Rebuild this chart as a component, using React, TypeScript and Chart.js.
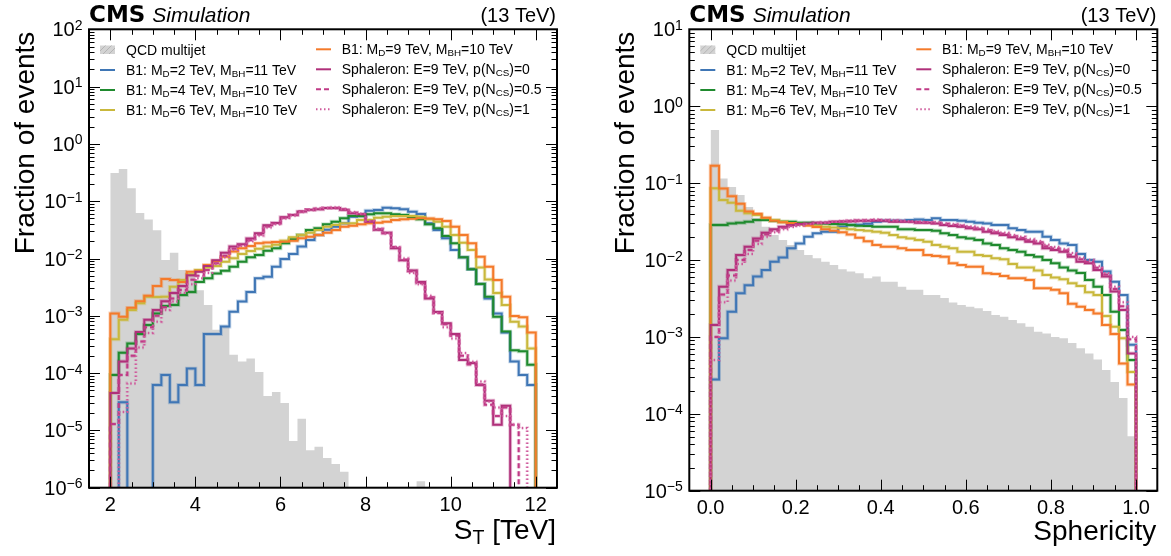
import React, { useEffect, useRef } from 'react';
import { Chart, registerables } from 'chart.js';
Chart.register(...registerables);

const FONT = '"Liberation Sans", Arimo, Arial, sans-serif';
const FLOOR = 1e-12;

// ---------------- binning / ticks ----------------
const ST_EDGES = Array.from({ length: 51 }, (_, i) => +(2 + 0.2 * i).toFixed(2));
const SPH_EDGES = Array.from({ length: 51 }, (_, i) => +(0.02 * i).toFixed(2));

const ST_TICKS = [2, 4, 6, 8, 10, 12];
const ST_TICK_LABELS = ['2', '4', '6', '8', '10', '12'];
const SPH_TICKS = [0, 0.2, 0.4, 0.6, 0.8, 1.0];
const SPH_TICK_LABELS = ['0.0', '0.2', '0.4', '0.6', '0.8', '1.0'];
const ST_DECADES = [-6, -5, -4, -3, -2, -1, 0, 1, 2];
const ST_Y_LABELS = ['10^{−6}', '10^{−5}', '10^{−4}', '10^{−3}', '10^{−2}', '10^{−1}', '10^{0}', '10^{1}', '10^{2}'];
const SPH_DECADES = [-5, -4, -3, -2, -1, 0, 1];
const SPH_Y_LABELS = ['10^{−5}', '10^{−4}', '10^{−3}', '10^{−2}', '10^{−1}', '10^{0}', '10^{1}'];

// ---------------- legend ----------------
const LEGEND_COL1 = ['QCD multijet', 'B1: M_{D}=2 TeV, M_{BH}=11 TeV', 'B1: M_{D}=4 TeV, M_{BH}=10 TeV', 'B1: M_{D}=6 TeV, M_{BH}=10 TeV'];
const LEGEND_COL2 = ['B1: M_{D}=9 TeV, M_{BH}=10 TeV', 'Sphaleron: E=9 TeV, p(N_{CS})=0', 'Sphaleron: E=9 TeV, p(N_{CS})=0.5', 'Sphaleron: E=9 TeV, p(N_{CS})=1'];

const C_QCD = '#d3d3d3';
const C_BLUE = '#3f76b5';
const C_GREEN = '#1f8a2e';
const C_YELLOW = '#c9b83c';
const C_ORANGE = '#f47a2a';
const C_MAG = '#b0307a';
const C_MAG_DASH = '#c03a86';
const C_MAG_DOT = '#cf5a9c';

// ---------------- S_T panel data (fraction of events per 0.2 TeV bin, 2-12 TeV) ----------------
const ST_QCD = [0.31, 0.365, 0.168, 0.062, 0.048, 0.031, 0.0094, 0.0126, 0.0063, 0.0052,
  0.0028, 0.00155, 0.00057, 0.00065, 0.00021, 0.00016, 0.00018, 0.000105, 4.0e-5, 4.7e-5,
  3.0e-5, 6.5e-6, 1.6e-5, 4.5e-6, 5.2e-6, 3.3e-6, 2.6e-6, 1.9e-6, 0, 0,
  0, 0, 0, 0, 0, 0, 1.3e-6, 0, 0, 0,
  0, 0, 0, 0, 0, 0, 0, 0, 0, 0];
const ST_MD2 = [0, 3.1e-5, 0, 0, 0, 6.2e-5, 9.3e-5, 3.1e-5, 6.2e-5, 1.2e-4,
  6.2e-5, 4.8e-4, 4.8e-4, 6.5e-4, 1.18e-3, 1.78e-3, 2.6e-3, 4.5e-3, 4.8e-3, 7.2e-3,
  9.8e-3, 0.012, 0.0162, 0.021, 0.0257, 0.0316, 0.0359, 0.0411, 0.0537, 0.0552,
  0.0682, 0.0702, 0.077, 0.0752, 0.0723, 0.0656, 0.0598, 0.0411, 0.0314, 0.0225,
  0.0141, 0.0105, 6.5e-3, 3.6e-3, 2.0e-3, 1.1e-3, 5.1e-4, 1.6e-4, 9.3e-5, 6.2e-5];
const ST_MD4 = [9.3e-5, 2.27e-4, 3.3e-4, 4.8e-4, 6.9e-4, 1.1e-3, 1.48e-3, 1.55e-3, 2.3e-3, 2.6e-3,
  3.9e-3, 4.5e-3, 5.5e-3, 6.1e-3, 7.2e-3, 8.8e-3, 0.0105, 0.0115, 0.0137, 0.0151,
  0.0184, 0.0216, 0.0257, 0.0314, 0.0337, 0.0395, 0.0439, 0.0504, 0.0552, 0.0552,
  0.059, 0.0615, 0.0615, 0.059, 0.0574, 0.0524, 0.0483, 0.0395, 0.0337, 0.0247,
  0.0184, 0.0105, 6.5e-3, 3.6e-3, 2.15e-3, 9.6e-4, 5.3e-4, 2.5e-4, 2.4e-4, 1.4e-4];
const ST_MD6 = [3.9e-4, 8.5e-4, 1.26e-3, 1.65e-3, 2.15e-3, 2.13e-3, 2.15e-3, 3.2e-3, 4.2e-3, 5.3e-3,
  6.3e-3, 7.0e-3, 7.4e-3, 8.8e-3, 0.0101, 0.012, 0.0135, 0.0148, 0.0162, 0.0174,
  0.0205, 0.0234, 0.0257, 0.0282, 0.0314, 0.0359, 0.0385, 0.0411, 0.0411, 0.047,
  0.047, 0.0515, 0.0537, 0.0552, 0.0552, 0.0552, 0.0537, 0.0483, 0.0439, 0.0359,
  0.0257, 0.0189, 0.0141, 7.0e-3, 4.3e-3, 2.5e-3, 1.54e-3, 7.9e-4, 6.5e-4, 2.7e-4];
const ST_MD9 = [1.1e-3, 9.6e-4, 1.38e-3, 1.8e-3, 2.24e-3, 3.3e-3, 4.4e-3, 4.2e-3, 3.9e-3, 5.9e-3,
  6.1e-3, 7.7e-3, 9.0e-3, 0.0107, 0.0132, 0.0151, 0.0165, 0.0184, 0.0191, 0.0195,
  0.0196, 0.0204, 0.0225, 0.024, 0.0257, 0.0282, 0.0314, 0.0359, 0.0374, 0.0395,
  0.0411, 0.0422, 0.0439, 0.047, 0.0483, 0.0495, 0.0504, 0.0501, 0.0483, 0.0451,
  0.0359, 0.0257, 0.0184, 0.0107, 7.2e-3, 4.2e-3, 2.15e-3, 9.9e-4, 9.4e-4, 5.1e-4];
const ST_SPH0 = [4.5e-5, 1.6e-4, 2.7e-4, 5.2e-4, 8.5e-4, 1.26e-3, 1.8e-3, 2.5e-3, 3.3e-3, 5.1e-3,
  5.9e-3, 7.4e-3, 9.3e-3, 0.0126, 0.0162, 0.0178, 0.0224, 0.0275, 0.038, 0.0417,
  0.0525, 0.0575, 0.066, 0.0708, 0.0724, 0.0759, 0.0759, 0.0708, 0.0617, 0.0589,
  0.0437, 0.0316, 0.0282, 0.0151, 9.3e-3, 6.2e-3, 3.9e-3, 2.0e-3, 1.17e-3, 7.4e-4,
  4.8e-4, 1.7e-4, 1.5e-4, 6.2e-5, 3.3e-5, 1.26e-5, 2.7e-5, 0, 0, 0];
const ST_SPH05 = [1.29e-5, 9.3e-5, 2.0e-4, 3.55e-4, 6.3e-4, 1.0e-3, 1.41e-3, 2.0e-3, 2.82e-3, 4.27e-3,
  5.0e-3, 6.3e-3, 8.3e-3, 0.0112, 0.0148, 0.017, 0.0209, 0.0263, 0.0363, 0.0407,
  0.0513, 0.0575, 0.066, 0.0708, 0.0741, 0.0759, 0.0759, 0.0724, 0.0631, 0.0589,
  0.0447, 0.0324, 0.0275, 0.0158, 9.5e-3, 6.0e-3, 3.7e-3, 2.1e-3, 1.12e-3, 7.1e-4,
  4.5e-4, 2.0e-4, 1.41e-4, 6.3e-5, 2.8e-5, 1.78e-5, 2.5e-5, 1.26e-5, 0, 0];
const ST_SPH1 = [0, 2.1e-5, 6.6e-5, 2.8e-4, 5.0e-4, 7.9e-4, 1.26e-3, 1.78e-3, 2.5e-3, 3.55e-3,
  4.5e-3, 5.6e-3, 7.9e-3, 0.0105, 0.0141, 0.0166, 0.02, 0.0251, 0.0347, 0.0398,
  0.0501, 0.0562, 0.0646, 0.0708, 0.0741, 0.0759, 0.0776, 0.0724, 0.0646, 0.0603,
  0.0457, 0.0331, 0.0275, 0.0158, 0.01, 5.6e-3, 3.55e-3, 2.24e-3, 1.12e-3, 6.3e-4,
  4.0e-4, 2.24e-4, 1.58e-4, 7.1e-5, 3.2e-5, 2.5e-5, 1.78e-5, 1.26e-5, 1.1e-5, 0];

// ---------------- Sphericity panel data (fraction per 0.02 bin, 0-1) ----------------
const SPH_QCD = [0.49, 0.115, 0.089, 0.07, 0.049, 0.0355, 0.0271, 0.0211, 0.0182, 0.0157,
  0.0135, 0.0116, 0.0105, 9.5e-3, 8.6e-3, 7.6e-3, 7.1e-3, 6.7e-3, 5.8e-3, 6.1e-3,
  5.2e-3, 5.2e-3, 4.5e-3, 4.1e-3, 4.1e-3, 3.5e-3, 3.5e-3, 3.2e-3, 2.8e-3, 2.6e-3,
  2.47e-3, 2.35e-3, 2.17e-3, 1.93e-3, 1.83e-3, 1.66e-3, 1.5e-3, 1.36e-3, 1.17e-3, 1.11e-3,
  1.0e-3, 9.6e-4, 8.3e-4, 7.1e-4, 6.1e-4, 5.1e-4, 3.7e-4, 2.6e-4, 1.6e-4, 5.1e-5];
const SPH_MD2 = [2.8e-4, 9.6e-4, 2.13e-3, 3.7e-3, 4.7e-3, 6.1e-3, 7.4e-3, 9.5e-3, 0.0108, 0.0142,
  0.0164, 0.0201, 0.0222, 0.0233, 0.0233, 0.0271, 0.0285, 0.0288, 0.0295, 0.0315,
  0.0324, 0.0324, 0.0324, 0.0331, 0.0337, 0.0331, 0.0348, 0.0331, 0.0331, 0.0324,
  0.0315, 0.0305, 0.0299, 0.0285, 0.0285, 0.0258, 0.0245, 0.0233, 0.0233, 0.0201,
  0.0182, 0.0164, 0.0157, 0.012, 0.01, 9.5e-3, 7.1e-3, 5.2e-3, 3.5e-3, 7.9e-4];
const SPH_MD4 = [0.0285, 0.0285, 0.0299, 0.0305, 0.0315, 0.0331, 0.0331, 0.0324, 0.0315, 0.0315,
  0.0305, 0.0305, 0.0299, 0.0299, 0.0294, 0.0291, 0.0285, 0.0279, 0.0277, 0.0271,
  0.0271, 0.0271, 0.0251, 0.0251, 0.0245, 0.0245, 0.024, 0.0222, 0.0211, 0.0197,
  0.0191, 0.0182, 0.0164, 0.0157, 0.0142, 0.0135, 0.0128, 0.0116, 0.011, 0.01,
  9.1e-3, 8.0e-3, 7.3e-3, 6.8e-3, 5.5e-3, 4.5e-3, 3.5e-3, 2.13e-3, 1.23e-3, 5.0e-4];
const SPH_MD6 = [0.0855, 0.0603, 0.0557, 0.0438, 0.0405, 0.0385, 0.0348, 0.0331, 0.0315, 0.0299,
  0.0292, 0.0285, 0.0278, 0.0271, 0.0264, 0.0258, 0.0251, 0.0245, 0.024, 0.0233,
  0.0226, 0.0211, 0.0197, 0.0191, 0.0182, 0.0173, 0.0157, 0.0149, 0.0142, 0.0128,
  0.0128, 0.0116, 0.0113, 0.0105, 0.0102, 8.9e-3, 8.0e-3, 8.0e-3, 7.3e-3, 6.4e-3,
  5.9e-3, 5.6e-3, 5.0e-3, 4.6e-3, 3.8e-3, 3.5e-3, 1.87e-3, 1.36e-3, 9.6e-4, 3.5e-4];
const SPH_MD9 = [0.168, 0.085, 0.0676, 0.0537, 0.0427, 0.0398, 0.0355, 0.0324, 0.0309, 0.0302,
  0.0295, 0.0282, 0.0269, 0.0251, 0.024, 0.0229, 0.0214, 0.0195, 0.0175, 0.0157,
  0.0149, 0.0149, 0.0142, 0.0135, 0.0135, 0.0116, 0.0113, 0.011, 9.1e-3, 8.6e-3,
  8.2e-3, 8.2e-3, 6.7e-3, 6.6e-3, 6.2e-3, 5.8e-3, 5.8e-3, 5.5e-3, 4.3e-3, 4.3e-3,
  4.1e-3, 3.7e-3, 2.7e-3, 2.47e-3, 2.24e-3, 2.02e-3, 1.43e-3, 1.09e-3, 4.5e-4, 2.4e-4];
const SPH_SPH0 = [1.43e-3, 4.5e-3, 7.4e-3, 0.0116, 0.0149, 0.0191, 0.0226, 0.0251, 0.0271, 0.0285,
  0.0294, 0.0299, 0.0305, 0.0305, 0.0315, 0.0316, 0.032, 0.0324, 0.0324, 0.0324,
  0.0324, 0.0315, 0.0315, 0.0315, 0.0305, 0.0305, 0.0299, 0.0285, 0.0277, 0.0271,
  0.0258, 0.0251, 0.0233, 0.0222, 0.0211, 0.0197, 0.0186, 0.0173, 0.0164, 0.0142,
  0.0135, 0.0128, 0.011, 9.5e-3, 9.1e-3, 7.4e-3, 6.1e-3, 3.9e-3, 2.24e-3, 6.1e-4];
const SPH_SPH05 = [1.0e-3, 3.55e-3, 6.3e-3, 0.01, 0.0135, 0.0178, 0.0214, 0.024, 0.0263, 0.0279,
  0.0288, 0.0295, 0.0302, 0.0305, 0.0313, 0.0316, 0.032, 0.0324, 0.0327, 0.0331,
  0.0327, 0.0324, 0.032, 0.0316, 0.0313, 0.0309, 0.0305, 0.0295, 0.0285, 0.0279,
  0.0266, 0.0257, 0.0243, 0.0229, 0.0219, 0.0204, 0.0193, 0.018, 0.017, 0.0151,
  0.0141, 0.0133, 0.0117, 0.0102, 9.5e-3, 7.9e-3, 6.5e-3, 4.2e-3, 2.5e-3, 9.3e-4];
const SPH_SPH1 = [5.0e-4, 2.82e-3, 5.4e-3, 8.9e-3, 0.012, 0.0162, 0.02, 0.0229, 0.0251, 0.0269,
  0.0282, 0.0292, 0.0299, 0.0305, 0.0313, 0.032, 0.0324, 0.0327, 0.0331, 0.0335,
  0.0331, 0.0327, 0.0324, 0.032, 0.0316, 0.0313, 0.0309, 0.0299, 0.0292, 0.0282,
  0.0272, 0.0263, 0.0251, 0.0237, 0.0226, 0.0211, 0.02, 0.0186, 0.0176, 0.0158,
  0.0148, 0.0138, 0.0123, 0.0107, 0.01, 8.3e-3, 6.8e-3, 4.5e-3, 2.82e-3, 1.0e-3];

// ---------------- helpers ----------------
type Seg = { t: string; mode: 'n' | 'sub' | 'sup' };
function parseRich(s: string): Seg[] {
  const segs: Seg[] = [];
  const re = /([_^])\{([^}]*)\}/g;
  let last = 0;
  let m: RegExpExecArray | null;
  while ((m = re.exec(s))) {
    if (m.index > last) segs.push({ t: s.slice(last, m.index), mode: 'n' });
    segs.push({ t: m[2], mode: m[1] === '_' ? 'sub' : 'sup' });
    last = re.lastIndex;
  }
  if (last < s.length) segs.push({ t: s.slice(last), mode: 'n' });
  return segs;
}
function drawRich(ctx: CanvasRenderingContext2D, s: string, x: number, y: number, o: any) {
  const segs = parseRich(s);
  const sc = o.scale ?? 0.7;
  const fontFor = (mode: string) => `${o.style || 'normal'} ${o.weight || 'normal'} ${mode === 'n' ? o.size : o.size * sc}px ${o.family || FONT}`;
  let total = 0;
  const ws = segs.map((sg) => { ctx.font = fontFor(sg.mode); const w = ctx.measureText(sg.t).width; total += w; return w; });
  let cx = o.align === 'right' ? x - total : o.align === 'center' ? x - total / 2 : x;
  ctx.textAlign = 'left';
  ctx.textBaseline = 'alphabetic';
  segs.forEach((sg, i) => {
    ctx.font = fontFor(sg.mode);
    const dy = sg.mode === 'sub' ? (o.subShift ?? o.size * 0.15) : sg.mode === 'sup' ? -(o.supShift ?? o.size * 0.35) : 0;
    ctx.fillText(sg.t, cx, y + dy);
    cx += ws[i];
  });
  return total;
}

function stepPoints(edges: number[], values: number[]) {
  const pts: { x: number; y: number }[] = [{ x: edges[0], y: FLOOR }];
  values.forEach((v, i) => {
    const y = v > 0 ? v : FLOOR;
    pts.push({ x: edges[i], y }, { x: edges[i + 1], y });
  });
  pts.push({ x: edges[edges.length - 1], y: FLOOR });
  return pts;
}

function hexA(hex: string, a: number) {
  const n = parseInt(hex.slice(1), 16);
  return `rgba(${(n >> 16) & 255},${(n >> 8) & 255},${n & 255},${a})`;
}

type Series = { values: number[]; color: string; dash: number[] };

function buildDatasets(edges: number[], qcd: number[], series: Series[]) {
  const ds: any[] = [];
  ds.push({ data: stepPoints(edges, qcd), borderWidth: 0, borderColor: C_QCD, backgroundColor: C_QCD, fill: 'start', pointRadius: 0, tension: 0, order: 1000 });
  series.forEach((s, i) => {
    ds.push({ data: stepPoints(edges, s.values), borderColor: hexA(s.color, 0.3), borderWidth: 3.8, borderDash: s.dash, fill: false, pointRadius: 0, tension: 0, order: 500 - i });
    ds.push({ data: stepPoints(edges, s.values), borderColor: s.color, borderWidth: 2, borderDash: s.dash, fill: false, pointRadius: 0, tension: 0, order: 100 - i });
  });
  return ds;
}

const LEG_MARKS = [
  [{ kind: 'patch', color: C_QCD, dash: [] }, { kind: 'line', color: C_BLUE, dash: [] }, { kind: 'line', color: C_GREEN, dash: [] }, { kind: 'line', color: C_YELLOW, dash: [] }],
  [{ kind: 'line', color: C_ORANGE, dash: [] }, { kind: 'line', color: C_MAG, dash: [] }, { kind: 'line', color: C_MAG_DASH, dash: [5, 3] }, { kind: 'line', color: C_MAG_DOT, dash: [1.5, 2.5] }],
];

function makeDecor(p: any) {
  return {
    id: 'decor',
    afterDatasetsDraw(chart: any) {
      const ctx: CanvasRenderingContext2D = chart.ctx;
      const a = chart.chartArea;
      const xs = chart.scales.x;
      const ys = chart.scales.y;
      ctx.save();
      ctx.strokeStyle = '#000';
      ctx.lineWidth = 1;
      const seg = (x0: number, y0: number, x1: number, y1: number) => { ctx.beginPath(); ctx.moveTo(x0, y0); ctx.lineTo(x1, y1); ctx.stroke(); };
      // x ticks
      const i0 = Math.ceil(p.xMin / p.xMinor - 1e-6);
      const i1 = Math.floor(p.xMax / p.xMinor + 1e-6);
      for (let i = i0; i <= i1; i++) {
        const v = i * p.xMinor;
        const major = p.xTicks.some((t: number) => Math.abs(t - v) < 1e-6);
        const len = major ? 11 : 5.5;
        const px = Math.round(xs.getPixelForValue(v)) + 0.5;
        seg(px, a.bottom, px, a.bottom - len);
        seg(px, a.top, px, a.top + len);
      }
      // y ticks
      for (let d = p.decades[0] - 1; d <= p.decades[p.decades.length - 1]; d++) {
        for (let m = 1; m <= 9; m++) {
          const v = m * Math.pow(10, d);
          if (v < p.yMin * 0.999 || v > p.yMax * 1.001) continue;
          const len = m === 1 ? 11 : 5.5;
          const py = Math.round(ys.getPixelForValue(v)) + 0.5;
          seg(a.left, py, a.left + len, py);
          seg(a.right, py, a.right - len, py);
        }
      }
      // frame
      ctx.lineWidth = 2;
      ctx.strokeRect(a.left, a.top, a.right - a.left, a.bottom - a.top);
      ctx.fillStyle = '#000';
      // tick labels
      p.xTicks.forEach((t: number, i: number) => drawRich(ctx, p.xLabels[i], xs.getPixelForValue(t), a.bottom + 23.5, { size: 20, align: 'center' }));
      p.decades.forEach((d: number, i: number) => drawRich(ctx, p.yLabels[i], a.left - 6.5, ys.getPixelForValue(Math.pow(10, d)) + 7, { size: 20, align: 'right', scale: 0.7, supShift: 6.5 }));
      // axis titles
      drawRich(ctx, p.xTitle, a.right - 1, p.xTitleBase, { size: 28, align: 'right', subShift: 5 });
      ctx.save();
      ctx.translate(a.left - 55.5, a.top + 2.4);
      ctx.rotate(-Math.PI / 2);
      drawRich(ctx, 'Fraction of events', 0, 0, { size: 28, align: 'right' });
      ctx.restore();
      // header
      ctx.font = 'bold 23px "DejaVu Sans", sans-serif';
      ctx.textAlign = 'left';
      ctx.fillText('CMS', a.left, 22);
      const w = ctx.measureText('CMS').width;
      ctx.font = `italic 21px ${FONT}`;
      ctx.fillText('Simulation', a.left + w + 7, 22);
      drawRich(ctx, '(13 TeV)', a.right - 1, 22, { size: 20, align: 'right' });
      // legend
      const cols = [{ mx: a.left + 11, tx: a.left + 37, labels: LEGEND_COL1 }, { mx: a.left + 227, tx: a.left + 252.7, labels: LEGEND_COL2 }];
      cols.forEach((c, ci) => {
        c.labels.forEach((lab, ri) => {
          const ry = a.top + 20.7 + 20 * ri - (ci === 1 ? 0.7 : 0);
          const mk: any = LEG_MARKS[ci][ri];
          if (mk.kind === 'patch') {
            ctx.fillStyle = mk.color;
            ctx.fillRect(c.mx, ry - 4.5, 15, 8.5);
            ctx.save();
            ctx.beginPath();
            ctx.rect(c.mx, ry - 4.5, 15, 8.5);
            ctx.clip();
            ctx.strokeStyle = '#b4b4b4';
            ctx.lineWidth = 1;
            for (let k = -10; k < 25; k += 6) seg(c.mx + k, ry + 5, c.mx + k + 10, ry - 5);
            ctx.restore();
          } else {
            ctx.strokeStyle = mk.color;
            ctx.lineWidth = 2;
            ctx.setLineDash(mk.dash);
            seg(c.mx, ry, c.mx + 15, ry);
            ctx.setLineDash([]);
          }
          ctx.fillStyle = '#000';
          drawRich(ctx, lab, c.tx, ry + 5, { size: 14, align: 'left', subShift: 2 });
        });
      });
      ctx.restore();
    },
  };
}

function Panel(props: any) {
  const ref = useRef<HTMLCanvasElement>(null);
  useEffect(() => {
    const p = props.spec;
    const chart = new Chart(ref.current as HTMLCanvasElement, {
      type: 'line',
      data: { datasets: buildDatasets(p.edges, p.qcd, p.series) },
      options: {
        responsive: false,
        animation: false,
        events: [],
        layout: { padding: { top: p.top, right: p.width - p.right, left: 0, bottom: 0 } },
        plugins: { legend: { display: false }, tooltip: { enabled: false }, title: { display: false } },
        scales: {
          x: { type: 'linear', min: p.xMin, max: p.xMax, grid: { display: false }, border: { display: false }, ticks: { display: false }, afterFit: (s: any) => { s.height = p.height - p.bottom; } },
          y: { type: 'logarithmic', min: p.yMin, max: p.yMax, grid: { display: false }, border: { display: false }, ticks: { display: false }, afterFit: (s: any) => { s.width = p.left; } },
        },
      } as any,
      plugins: [makeDecor(p)],
    });
    return () => chart.destroy();
  }, []);
  const p = props.spec;
  return <canvas ref={ref} width={p.width} height={p.height} style={{ position: 'absolute', left: p.x, top: 0, width: p.width, height: p.height }} />;
}

const ST_SPEC = {
  x: 0, width: 600, height: 556, left: 89, right: 557, top: 29.3, bottom: 487.7,
  xMin: 1.5, xMax: 12.5, yMin: 1e-6, yMax: 1e2, xMinor: 0.5,
  xTicks: ST_TICKS, xLabels: ST_TICK_LABELS, decades: ST_DECADES, yLabels: ST_Y_LABELS,
  xTitle: 'S_{T} [TeV]', xTitleBase: 538.5,
  edges: ST_EDGES, qcd: ST_QCD,
  series: [
    { values: ST_MD2, color: C_BLUE, dash: [] },
    { values: ST_MD4, color: C_GREEN, dash: [] },
    { values: ST_MD6, color: C_YELLOW, dash: [] },
    { values: ST_MD9, color: C_ORANGE, dash: [] },
    { values: ST_SPH0, color: C_MAG, dash: [] },
    { values: ST_SPH05, color: C_MAG_DASH, dash: [5, 3] },
    { values: ST_SPH1, color: C_MAG_DOT, dash: [1.5, 2.5] },
  ],
};
const SPH_SPEC = {
  x: 600, width: 571, height: 556, left: 89.3, right: 557.3, top: 29.3, bottom: 490.7,
  xMin: -0.05, xMax: 1.05, yMin: 1e-5, yMax: 1e1, xMinor: 0.05,
  xTicks: SPH_TICKS, xLabels: SPH_TICK_LABELS, decades: SPH_DECADES, yLabels: SPH_Y_LABELS,
  xTitle: 'Sphericity', xTitleBase: 540,
  edges: SPH_EDGES, qcd: SPH_QCD,
  series: [
    { values: SPH_MD2, color: C_BLUE, dash: [] },
    { values: SPH_MD4, color: C_GREEN, dash: [] },
    { values: SPH_MD6, color: C_YELLOW, dash: [] },
    { values: SPH_MD9, color: C_ORANGE, dash: [] },
    { values: SPH_SPH0, color: C_MAG, dash: [] },
    { values: SPH_SPH05, color: C_MAG_DASH, dash: [5, 3] },
    { values: SPH_SPH1, color: C_MAG_DOT, dash: [1.5, 2.5] },
  ],
};

export default function App() {
  return (
    <div style={{ position: 'fixed', left: 0, top: 0, width: 1171, height: 556, background: '#fff' }}>
      <Panel spec={ST_SPEC} />
      <Panel spec={SPH_SPEC} />
    </div>
  );
}
